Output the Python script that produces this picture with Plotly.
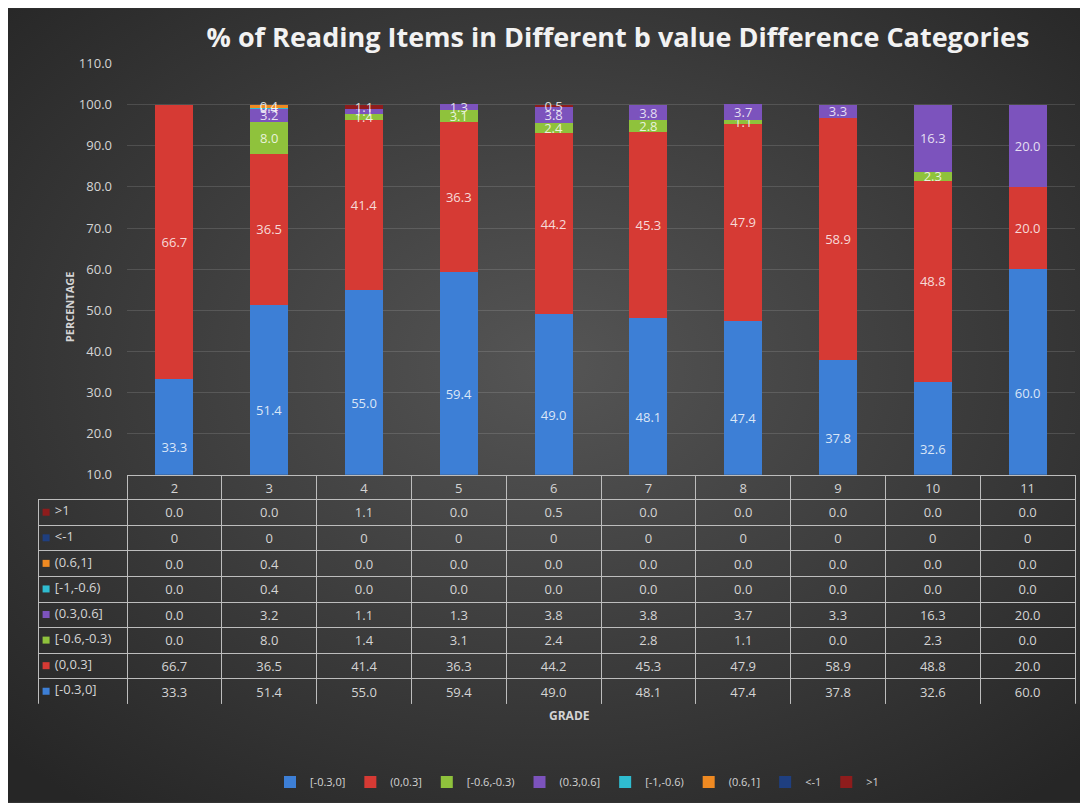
import base64
import plotly.graph_objects as go

grades = ["2", "3", "4", "5", "6", "7", "8", "9", "10", "11"]

# categories in stacking order (bottom to top)
cats = ["[-0.3,0]", "(0,0.3]", "[-0.6,-0.3)", "(0.3,0.6]", "[-1,-0.6)", "(0.6,1]", "<-1", ">1"]

v_m03_0 = [33.3, 51.4, 55.0, 59.4, 49.0, 48.1, 47.4, 37.8, 32.6, 60.0]
v_0_03 = [66.7, 36.5, 41.4, 36.3, 44.2, 45.3, 47.9, 58.9, 48.8, 20.0]
v_m06_m03 = [0.0, 8.0, 1.4, 3.1, 2.4, 2.8, 1.1, 0.0, 2.3, 0.0]
v_03_06 = [0.0, 3.2, 1.1, 1.3, 3.8, 3.8, 3.7, 3.3, 16.3, 20.0]
v_m1_m06 = [0.0, 0.4, 0.0, 0.0, 0.0, 0.0, 0.0, 0.0, 0.0, 0.0]
v_06_1 = [0.0, 0.4, 0.0, 0.0, 0.0, 0.0, 0.0, 0.0, 0.0, 0.0]
v_lt_m1 = [0, 0, 0, 0, 0, 0, 0, 0, 0, 0]
v_gt_1 = [0.0, 0.0, 1.1, 0.0, 0.5, 0.0, 0.0, 0.0, 0.0, 0.0]

series = [v_m03_0, v_0_03, v_m06_m03, v_03_06, v_m1_m06, v_06_1, v_lt_m1, v_gt_1]
formats = ["{:.1f}"] * 6 + ["{:.0f}", "{:.1f}"]
colors = ["#3d7fd6", "#d63a34", "#8fc23c", "#7c53bd", "#2fbcd0", "#ef8a22", "#1f3f80", "#8e1c1c"]

# page geometry (px)
W, H = 1088, 803
ML, MR, MT, MB = 30, 21, 20, 10
PW, PH = W - ML - MR, H - MT - MB


def py(px):
    return 1 - (px - MT) / PH


def px_(x):
    return (x - ML) / PW


fig = go.Figure()

for name, vals, fmt, col in zip(cats, series, formats, colors):
    fig.add_trace(go.Bar(
        x=grades, y=vals, name=name,
        marker=dict(color=col, line=dict(width=0)),
        text=[fmt.format(v) for v in vals],
        textposition="inside", insidetextanchor="middle",
        textangle=0,
        textfont=dict(size=13, color="rgba(255,255,255,0.82)", family="Open Sans"),
        width=0.4,
    ))

# data table under the chart (top row = last category)
tbl_cats = cats[::-1]
tbl_series = series[::-1]
tbl_fmts = formats[::-1]
tbl_cols = colors[::-1]
grade_cols = []
for gi in range(len(grades)):
    grade_cols.append([f.format(s[gi]) for s, f in zip(tbl_series, tbl_fmts)])

line_col = "#bdbdbd"
fig.add_trace(go.Table(
    domain=dict(x=[0, 1], y=[py(704), py(473)]),
    columnwidth=[89] + [94.8] * len(grades),
    header=dict(
        values=[""] + grades,
        align="center",
        height=24,
        fill=dict(color="rgba(0,0,0,0)"),
        line=dict(color=["rgba(0,0,0,0)"] + [line_col] * len(grades), width=1),
        font=dict(size=13, color="#d4d4d4", family="Open Sans"),
    ),
    cells=dict(
        values=[[""] * len(tbl_cats)] + grade_cols,
        align="center",
        height=25.6,
        fill=dict(color="rgba(0,0,0,0)"),
        line=dict(color=line_col, width=1),
        font=dict(size=13, color="#d4d4d4", family="Open Sans"),
    ),
))

# row labels with colour keys in the table's first column
fig.add_trace(go.Scatter(
    x=[0] * len(tbl_cats), y=tbl_cats, mode="markers+text",
    text=["\u00a0" + c for c in tbl_cats], textposition="middle right",
    textfont=dict(size=13, color="#d4d4d4", family="Open Sans"),
    marker=dict(symbol="square", size=7, color=tbl_cols),
    xaxis="x2", yaxis="y2", showlegend=False, hoverinfo="skip", cliponaxis=False,
))

svg = ('<svg xmlns="http://www.w3.org/2000/svg" width="1088" height="803">'
       '<defs><radialGradient id="g" cx="50%" cy="45%" r="70%">'
       '<stop offset="0" stop-color="#555555"/><stop offset="1" stop-color="#262626"/>'
       '</radialGradient></defs><rect width="1088" height="803" fill="url(#g)"/></svg>')
bg = "data:image/svg+xml;base64," + base64.b64encode(svg.encode()).decode()

fig.update_layout(
    width=W, height=H,
    margin=dict(l=ML, r=MR, t=MT, b=MB),
    barmode="stack",
    paper_bgcolor="#333333",
    plot_bgcolor="rgba(0,0,0,0)",
    font=dict(family="Open Sans", size=12, color="#d4d4d4"),
    uniformtext=dict(minsize=12, mode="show"),
    title=dict(
        text="% of Reading Items in Different b value Difference Categories",
        x=610 / W, xanchor="center", y=1 - 30 / H, yanchor="middle",
        font=dict(size=27, color="#f2f2f2", family="Open Sans", weight="bold"),
    ),
    xaxis=dict(domain=[px_(119), 1], showticklabels=False, showgrid=False,
               zeroline=False, showline=False, ticks=""),
    yaxis=dict(domain=[py(472), py(56)], range=[10, 110], dtick=10,
               tickformat=".1f", showgrid=True, gridcolor="rgba(255,255,255,0.13)",
               gridwidth=1, zeroline=False, showline=False,
               ticklabelstandoff=14,
               tickfont=dict(size=13, color="#d4d4d4")),
    xaxis2=dict(domain=[px_(30), px_(119)], range=[-1.0, 10], visible=False),
    yaxis2=dict(domain=[py(704), py(497)], range=[7.5, -0.5], visible=False,
                type="category", categoryorder="array", categoryarray=tbl_cats),
    legend=dict(orientation="h", x=px_(569), xanchor="center", y=py(783), yanchor="middle",
                traceorder="normal", itemwidth=30, font=dict(size=11, color="#d4d4d4"),
                bgcolor="rgba(0,0,0,0)"),
    images=[dict(source=bg, xref="paper", yref="paper",
                 x=-ML / PW, y=1 + MT / PH, sizex=W / PW, sizey=H / PH,
                 xanchor="left", yanchor="top", sizing="stretch", layer="below")],
    annotations=[
        dict(text="<b>PERCENTAGE</b>", textangle=-90, xref="paper", yref="paper",
             x=px_(52), y=py(264), showarrow=False,
             font=dict(size=11, color="#d4d4d4")),
        dict(text="<b>GRADE</b>", xref="paper", yref="paper",
             x=px_(561), y=py(726), showarrow=False,
             font=dict(size=12, color="#d4d4d4")),
    ],
)

fig.write_html("out.html")
